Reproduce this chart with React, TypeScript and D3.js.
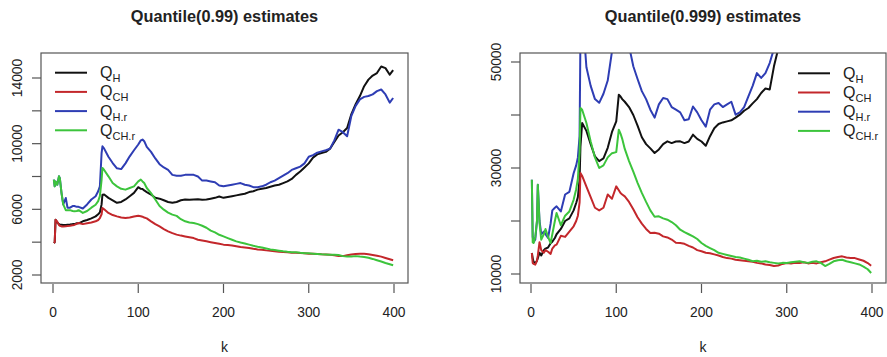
import React from "react";
import * as d3 from "d3";

// k grid shared by all series
const K = [1,2,3,5,7,8,10,12,15,17,20,23,25,28,30,35,40,45,50,53,55,57,58,60,65,70,75,80,85,90,95,100,103,105,107,110,
  115,120,125,130,135,140,145,150,155,160,
  165,170,175,180,185,190,195,200,205,210,
  215,220,225,230,235,240,245,250,255,260,
  265,270,275,280,285,290,295,300,305,310,
  315,320,325,330,335,340,345,350,355,360,
  365,370,375,380,385,390,395,399];

// Quantile(0.99)
const LEFT_QH = [3950,4000,5370,5200,5100,5070,5065,5050,5050,5060,5070,5100,5100,5150,5150,5270,5350,5450,5570,5700,5820,6300,6890,6900,6700,6550,6400,6450,6600,6800,7000,7350,7250,7240,7150,7050,
  6900,6700,6650,6550,6450,6400,6450,6550,6600,6580,
  6600,6620,6580,6600,6650,6700,6780,6700,6750,6800,
  6850,6900,6950,7050,7100,7200,7250,7300,7380,7450,
  7500,7600,7700,7850,8100,8300,8550,8800,9150,9350,
  9430,9500,9700,10100,10500,10700,10950,11800,12400,12900,
  13500,13900,14150,14300,14700,14600,14200,14480];
const LEFT_QCH = [3950,4000,5370,5250,5050,5000,4960,4950,4970,4980,5000,5030,5050,5120,5170,5100,5150,5200,5270,5350,5470,5700,6080,6000,5780,5650,5570,5500,5470,5500,5560,5610,5580,5550,5500,5450,
  5270,5100,4960,4800,4660,4550,4460,4400,4350,4300,
  4250,4150,4100,4050,4000,3950,3900,3850,3830,3800,
  3750,3700,3680,3650,3600,3560,3540,3500,3480,3450,
  3420,3400,3380,3360,3350,3340,3320,3300,3290,3280,
  3260,3250,3230,3200,3150,3150,3200,3250,3280,3300,
  3290,3270,3220,3170,3120,3040,2960,2900];
const LEFT_QHR = [7810,7400,7700,7500,8010,7900,6990,6300,6690,6100,6100,6200,6200,6150,6150,6050,6300,6600,6800,7100,7400,9430,9840,9700,9200,8820,8500,8450,8800,9230,9600,9950,10200,10250,10150,9800,
  9500,9100,8750,8550,8400,8100,8050,8050,8100,8100,
  8100,8000,7750,7750,7700,7650,7450,7400,7450,7500,
  7550,7600,7500,7450,7350,7350,7400,7500,7650,7750,
  7900,8050,8200,8400,8500,8600,8800,9200,9300,9450,
  9530,9600,9700,10200,10850,10700,10450,11700,12300,12700,
  12850,12900,13000,13200,13300,13000,12500,12780];
const LEFT_QCHR = [7810,7400,7700,7500,8010,7900,6990,6300,5950,5950,5950,5900,5880,5900,5950,5780,5900,6100,6280,6500,6800,7800,8520,8400,8010,7600,7400,7250,7200,7300,7400,7700,7810,7700,7600,7300,
  6990,6600,6200,5980,5800,5680,5600,5400,5270,5200,
  5170,5100,5000,4880,4700,4600,4450,4350,4250,4150,
  4050,3980,3920,3850,3780,3720,3680,3620,3560,3520,
  3480,3440,3410,3390,3380,3350,3330,3320,3300,3280,
  3260,3250,3240,3240,3220,3150,3120,3120,3150,3120,
  3100,3050,2980,2900,2820,2730,2650,2590];

// Quantile(0.999)
const N = null;
const RIGHT_QH = [13960,13000,12300,12070,12500,13000,14000,13500,14500,14800,15000,15800,16100,16800,17500,18500,20000,20500,22000,23400,24500,27800,34000,38500,37000,34500,32200,31300,31800,33800,36800,38800,43840,43500,43000,42500,
  41500,40000,38000,35800,34500,33700,32830,33500,34500,35030,
  34700,35000,35030,34700,35000,36290,35500,35000,34200,36000,
  37500,38300,38600,38800,39000,39500,40060,40800,41320,42200,
  43000,44150,45000,44800,49180,52500,N,N,N,N,
  N,N,N,N,N,N,N,N,N,N,
  N,N,N,N,N,N,N,N];
const RIGHT_QCH = [13960,12070,11900,11760,12500,13500,16000,14500,14000,14500,14200,13800,14800,15400,15530,17200,17000,18000,19000,20000,21000,23500,29060,28500,26500,24500,22500,22000,22500,25000,24200,26540,25800,25280,25000,24650,
  23600,22200,20700,19500,18500,17730,17800,17600,17100,16900,
  16500,15900,15850,15700,15300,15000,14500,14280,14000,13900,
  13700,13500,13200,13000,12900,12700,12600,12500,12400,12300,
  12100,12000,11800,11700,11500,11600,11900,12070,12000,12100,
  12070,12200,12000,12100,12000,12200,12390,12700,13020,13200,
  13330,13100,13020,13000,12750,12500,12070,11570];
const RIGHT_QHR = [27800,17000,16000,16500,20000,26850,20000,17500,18000,17500,16800,19500,22000,22500,22770,21800,25000,25500,29000,30500,32000,36000,55000,60000,49000,45500,43000,42300,44000,46500,52000,60000,60000,60000,58000,56000,
  53000,49200,46800,44500,43000,41000,39500,42000,43200,43000,
  41500,41000,40500,39000,39200,41600,40500,39000,37800,41010,
  42000,42270,41500,42000,42500,40060,40500,41500,43500,45500,
  47900,47000,47900,49800,52500,N,N,N,N,N,
  N,N,N,N,N,N,N,N,N,N,
  N,N,N,N,N,N,N,N];
const RIGHT_QCHR = [27800,16000,15850,17000,20000,26850,19620,16480,17500,18500,17000,15850,17500,20000,21510,19200,21000,21800,24000,26000,28000,33000,41320,41000,38500,35000,32000,30000,30500,32000,32800,33000,37230,36500,35500,33600,
  31300,29300,27200,25300,23600,22000,20800,20880,20500,20250,
  19800,19200,18360,17900,17500,17100,16600,15850,15300,14900,
  14500,14000,13800,13600,13400,13200,13100,12900,12700,12400,
  12500,12300,12400,12200,12100,12000,12100,12070,12200,12300,
  12390,12200,12100,12300,12390,12100,11500,11900,12390,12600,
  12700,12400,12200,12000,11800,11400,10900,10190];

const SUBS = ["H", "CH", "H.r", "CH.r"];
const COLORS = ["#111111", "#c3272b", "#2e3db4", "#3cc43c"];
const X_TICKS = [0, 100, 200, 300, 400];
const LEFT_Y_TICKS = [2000, 4000, 6000, 8000, 10000, 12000, 14000];
const LEFT_Y_LABELS = [2000, 6000, 10000, 14000];
const RIGHT_Y_TICKS = [10000, 20000, 30000, 40000, 50000];
const RIGHT_Y_LABELS = [10000, 30000, 50000];

const FONT = "'Liberation Sans', Arial, Helvetica, sans-serif";
const AXIS = "#555";
const TEXT = "#222";

type PanelProps = {
  id: string;
  title: string;
  plot: [number, number, number, number]; // left, right, top, bottom
  xRange: [number, number];
  yDomain: [number, number];
  yRange: [number, number];
  series: (number | null)[][];
  yTicks: number[];
  yLabels: number[];
  legendX: number;
  legendY: number;
};

function Panel(p: PanelProps) {
  const [L, R, T, B] = p.plot;
  const x = d3.scaleLinear().domain([0, 400]).range(p.xRange);
  const y = d3.scaleLinear().domain(p.yDomain).range(p.yRange);
  const line = d3
    .line<number | null>()
    .defined((d) => d !== null)
    .x((_, i) => x(K[i]))
    .y((d) => y(d as number));
  const cx = (L + R) / 2;
  return (
    <g>
      <defs>
        <clipPath id={p.id}>
          <rect x={L} y={T} width={R - L} height={B - T} />
        </clipPath>
      </defs>
      <text x={cx} y={22} textAnchor="middle" fontFamily={FONT} fontWeight="bold" fontSize={16.3} fill={TEXT}>
        {p.title}
      </text>
      <g clipPath={`url(#${p.id})`}>
        {p.series.map((s, i) => (
          <path key={i} d={line(s) || ""} fill="none" stroke={COLORS[i]} strokeWidth={2} strokeLinejoin="round" />
        ))}
      </g>
      <rect x={L} y={T} width={R - L} height={B - T} fill="none" stroke={AXIS} strokeWidth={1.2} />
      {X_TICKS.map((t) => (
        <g key={t}>
          <line x1={x(t)} x2={x(t)} y1={B + 1} y2={B + 10} stroke={AXIS} strokeWidth={1.2} />
          <text x={x(t)} y={317} textAnchor="middle" fontFamily={FONT} fontSize={13.8} fill={TEXT}>
            {t}
          </text>
        </g>
      ))}
      <text x={cx} y={352} textAnchor="middle" fontFamily={FONT} fontSize={14} fill={TEXT}>
        k
      </text>
      {p.yTicks.map((t) => (
        <line key={t} x1={L - 9} x2={L} y1={y(t)} y2={y(t)} stroke={AXIS} strokeWidth={1.2} />
      ))}
      {p.yLabels.map((t) => (
        <text
          key={t}
          transform={`translate(${L - 19.5},${y(t)}) rotate(-90)`}
          textAnchor="middle"
          fontFamily={FONT}
          fontSize={13.8}
          fill={TEXT}
        >
          {t}
        </text>
      ))}
      {SUBS.map((s, i) => {
        const ly = p.legendY + i * 19.2;
        return (
          <g key={s}>
            <line x1={p.legendX} x2={p.legendX + 32} y1={ly} y2={ly} stroke={COLORS[i]} strokeWidth={2} />
            <text x={p.legendX + 45} y={ly + 5.5} fontFamily={FONT} fontSize={16} fill={TEXT}>
              Q
              <tspan fontSize={11} dy={4}>
                {s}
              </tspan>
            </text>
          </g>
        );
      })}
    </g>
  );
}

export default function App() {
  return (
    <svg width={887} height={357} style={{ position: "absolute", left: 0, top: 0, background: "#fff" }}>
      <rect x={0} y={0} width={887} height={357} fill="#fff" />
      <Panel
        id="clipL"
        title="Quantile(0.99) estimates"
        plot={[41, 408, 53, 283]}
        xRange={[53, 394]}
        yDomain={[2000, 14000]}
        yRange={[275, 78]}
        series={[LEFT_QH, LEFT_QCH, LEFT_QHR, LEFT_QCHR]}
        yTicks={LEFT_Y_TICKS}
        yLabels={LEFT_Y_LABELS}
        legendX={55}
        legendY={72.7}
      />
      <Panel
        id="clipR"
        title="Quantile(0.999) estimates"
        plot={[520, 886, 53, 283]}
        xRange={[531, 872]}
        yDomain={[10000, 50000]}
        yRange={[274, 62]}
        series={[RIGHT_QH, RIGHT_QCH, RIGHT_QHR, RIGHT_QCHR]}
        yTicks={RIGHT_Y_TICKS}
        yLabels={RIGHT_Y_LABELS}
        legendX={798}
        legendY={73.3}
      />
    </svg>
  );
}
